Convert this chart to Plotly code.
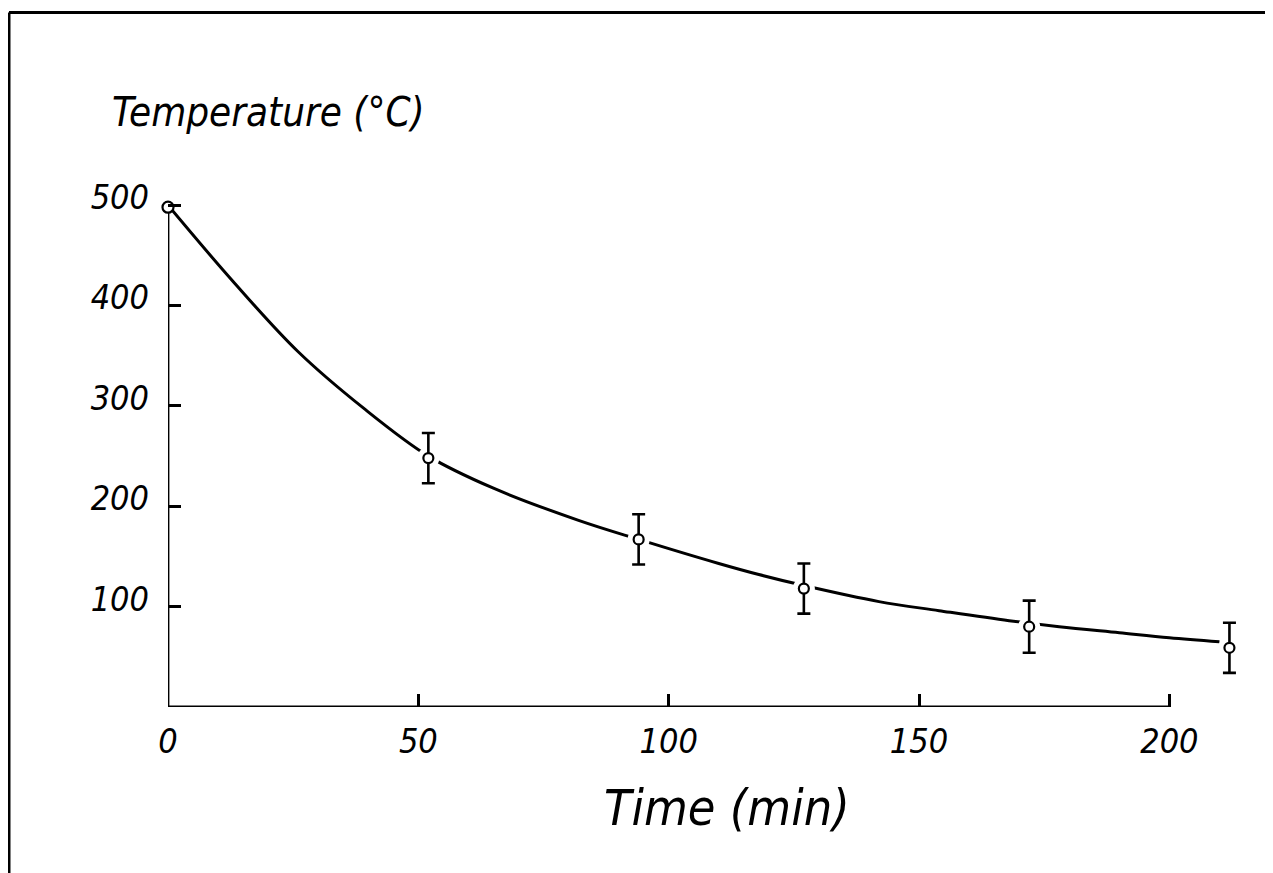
import plotly.graph_objects as go

# ---- data ----
time_min = [0, 52, 94, 127, 172, 212]
temp_c = [498, 248, 167, 118, 80, 59]
temp_err = [0, 25, 25, 25, 26, 25]

curve_time = [0, 13, 26, 39, 52, 65, 82, 94, 110, 118, 127, 142, 154, 168, 178, 190, 200, 210]
curve_temp = [500, 424, 354, 298, 250, 218, 186, 167, 143, 132, 121, 105, 96, 86, 80, 74, 69, 65]

x_tick_vals = [0, 50, 100, 150, 200]
x_tick_text = ["0", "50", "100", "150", "200"]
y_tick_vals = [100, 200, 300, 400, 500]
y_tick_text = ["100", "200", "300", "400", "500"]

x_title = "Time (min)"
y_title = "Temperature (°C)"

FONT = "DejaVu Sans Condensed, Liberation Sans Narrow, sans-serif"

fig = go.Figure()

fig.add_trace(go.Scatter(
    x=curve_time, y=curve_temp, mode="lines",
    line=dict(color="black", width=3, shape="spline", smoothing=1.0),
    hoverinfo="skip", showlegend=False, cliponaxis=False,
))

# white halo to make the small gaps in the curve around each measured point
fig.add_trace(go.Scatter(
    x=time_min[1:], y=temp_c[1:], mode="markers",
    marker=dict(symbol="circle", size=22, color="white", line=dict(width=0)),
    hoverinfo="skip", showlegend=False, cliponaxis=False,
))

# points with error bars
fig.add_trace(go.Scatter(
    x=time_min[1:], y=temp_c[1:], mode="markers",
    marker=dict(symbol="circle", size=10, color="white", line=dict(color="black", width=2.2)),
    error_y=dict(type="data", array=temp_err[1:], visible=True, color="black",
                 thickness=2.6, width=6.5),
    showlegend=False, cliponaxis=False,
))

# first point (no error bar)
fig.add_trace(go.Scatter(
    x=time_min[:1], y=temp_c[:1], mode="markers",
    marker=dict(symbol="circle", size=11, color="white", line=dict(color="black", width=2.2)),
    showlegend=False, cliponaxis=False,
))

axis_common = dict(
    showgrid=False, zeroline=False, showline=False,
    ticks="inside", ticklen=13, tickwidth=2.6, tickcolor="black",
    tickfont=dict(family=FONT, size=34, color="black", style="italic"),
    fixedrange=True,
)

fig.update_layout(
    width=1265, height=865,
    margin=dict(l=160, r=0, t=137, b=166),
    paper_bgcolor="white", plot_bgcolor="white",
    xaxis=dict(range=[0, 220.7], tickmode="array", tickvals=x_tick_vals, ticktext=x_tick_text,
               ticklabelstandoff=11, **axis_common),
    yaxis=dict(range=[0, 560], tickmode="array", tickvals=y_tick_vals, ticktext=y_tick_text,
               ticklabelstandoff=18, ticklabelshift=-8, **axis_common),
    shapes=[
        # axis lines
        dict(type="line", xref="x", yref="y", x0=0, x1=200, y0=0, y1=0,
             line=dict(color="black", width=2.8), layer="below"),
        dict(type="line", xref="x", yref="y", x0=0, x1=0, y0=0, y1=500,
             line=dict(color="black", width=2.8), layer="below"),
        # frame of the scanned figure (left and top edges)
        dict(type="line", xref="paper", yref="paper", x0=-0.1439, x1=-0.1439, y0=-0.32, y1=1.2358,
             line=dict(color="black", width=3)),
        dict(type="line", xref="paper", yref="paper", x0=-0.1439, x1=1.02, y0=1.2358, y1=1.2358,
             line=dict(color="black", width=3)),
    ],
    annotations=[
        dict(text=y_title, xref="paper", yref="paper", x=-0.0525, y=1.0587,
             xanchor="left", yanchor="middle", showarrow=False,
             font=dict(family=FONT, size=40, color="black", style="italic")),
        dict(text=x_title, xref="paper", yref="paper", x=0.506, y=-0.18,
             xanchor="center", yanchor="middle", showarrow=False,
             font=dict(family=FONT, size=50, color="black", style="italic")),
    ],
)

fig.write_html("out.html")
